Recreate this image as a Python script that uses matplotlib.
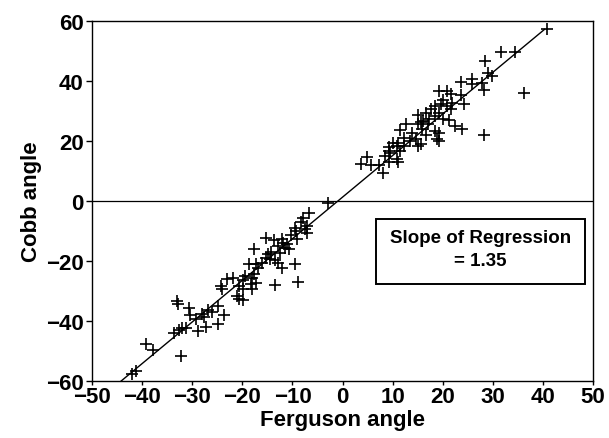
import numpy as np
import matplotlib
matplotlib.use("Agg")
import matplotlib.pyplot as plt
from matplotlib.patches import Rectangle

plt.rcParams['font.family'] = ['Liberation Sans', 'DejaVu Sans']

# Ferguson angle (x) vs Cobb angle (y)
ferguson = [40.7, 31.7, 34.5, 28.4, 29.0, 29.8, 23.6, 25.9, 25.8, 27.8,
            28.2, 36.2, 19.2, 20.9, 21.7, 23.6, 21.9, 24.2, 20.0, 19.7,
            20.9, 18.5, 17.7, 21.7, 16.6, 19.3, 18.5, 15.0, 20.0, 17.3,
            15.7, 15.0, 17.0, 12.7, 22.4, 23.9, 11.5, 15.8, 18.5, 13.8,
            19.2, 16.6, 28.2, 18.9, 19.3, 12.3, 13.5, 14.6, 10.0, 11.1,
            9.2, 10.8, 12.3, 15.0, 15.6, 9.2, 11.5, 8.4, 9.4, 4.9,
            3.6, 5.7, 7.3, 8.1, 9.2, 11.1, 10.8, 21.2, 16.0,
            -3.0, -6.7, -7.9, -8.3, -7.1, -9.4, -7.5, -9.2, -7.1, -9.0,
            -15.3, -13.7, -12.1, -11.8, -11.0, -12.9, -10.6, -17.7, -14.2, -14.9,
            -12.4, -15.3, -14.5, -13.4, -12.9, -9.4, -16.0, -18.7, -17.2, -16.8,
            -12.1, -21.9, -19.5, -17.6, -18.0, -19.8, -17.2, -18.3, -20.7, -19.9,
            -18.1, -8.8, -13.5, -23.0, -24.2, -24.0, -21.1, -20.7, -19.9, -24.9,
            -26.9, -26.1, -28.0, -27.6, -23.7, -29.2, -30.6, -30.4, -33.0, -32.8,
            -32.0, -31.2, -28.9, -27.3, -24.9, -33.7, -32.6, -39.3, -37.8, -32.2,
            -42.1, -41.2, -11.5, -10.2]
cobb = [57.4, 49.8, 49.8, 46.7, 42.8, 41.7, 39.8, 40.8, 38.9, 39.4,
        37.0, 35.9, 36.7, 36.7, 35.6, 35.2, 32.8, 32.2, 33.6, 32.2,
        31.7, 31.7, 30.6, 30.6, 29.4, 29.4, 28.3, 28.6, 27.2, 27.4,
        26.3, 25.6, 25.8, 25.6, 25.0, 24.1, 23.7, 23.9, 23.3, 22.8,
        22.8, 21.9, 21.9, 20.6, 20.0, 21.1, 20.0, 20.6, 19.4, 19.4,
        18.1, 18.3, 18.3, 18.3, 18.9, 16.7, 16.7, 15.0, 15.9, 14.7,
        12.4, 11.9, 11.9, 9.2, 13.0, 13.0, 13.9, 27.0, 26.8,
        -0.8, -4.1, -5.6, -7.0, -8.3, -8.9, -9.4, -10.0, -10.8, -12.6,
        -12.2, -13.0, -12.6, -13.9, -14.4, -15.0, -16.1, -16.1, -17.0, -17.8,
        -17.2, -18.9, -19.4, -19.8, -20.6, -20.9, -20.6, -21.1, -21.1, -22.2,
        -22.2, -25.6, -25.0, -24.4, -25.6, -26.3, -27.2, -27.8, -28.3, -29.4,
        -29.4, -26.9, -28.1, -26.1, -28.3, -29.2, -31.7, -32.6, -33.0, -35.0,
        -36.4, -37.0, -37.8, -38.6, -38.1, -39.4, -35.6, -38.1, -33.3, -34.4,
        -42.2, -42.2, -43.3, -42.0, -41.1, -44.1, -43.1, -47.6, -49.8, -51.7,
        -57.8, -56.7, -15.8, -11.5]

# regression line as drawn (end points)
line_x = [-44.3, 40.3]
line_y = [-60.2, 57.2]

fig = plt.figure(figsize=(6.09, 4.39), dpi=100)
ax = fig.add_axes([0.151, 0.130, 0.823, 0.820])

ax.plot(ferguson, cobb, linestyle='none', marker='+', color='black',
        markersize=8.5, markeredgewidth=1.2)
ax.plot(line_x, line_y, color='black', linewidth=1.0)
ax.axhline(0, color='black', linewidth=0.9)

ax.set_xlim(-50, 50)
ax.set_ylim(-60, 60)
ax.set_xticks(np.arange(-50, 51, 10))
ax.set_yticks(np.arange(-60, 61, 20))
ax.tick_params(axis='both', labelsize=16, direction='out', width=1.0)
ax.tick_params(axis='x', length=3, pad=1)
ax.tick_params(axis='y', length=4, pad=2)
for lab in ax.get_xticklabels() + ax.get_yticklabels():
    lab.set_fontweight('bold')
for sp in ax.spines.values():
    sp.set_linewidth(1.0)

ax.set_xlabel('Ferguson angle', fontsize=16, fontweight='bold', labelpad=1)
ax.set_ylabel('Cobb angle', fontsize=16, fontweight='bold', labelpad=3)

ax.add_patch(Rectangle((6.6, -27.6), 41.7, 21.7, fill=False,
                       edgecolor='black', linewidth=1.4, zorder=3))
ax.text(27.5, -12.3, 'Slope of Regression', ha='center', va='center',
        fontsize=13.5, fontweight='bold')
ax.text(27.5, -20.0, '= 1.35', ha='center', va='center',
        fontsize=13.5, fontweight='bold')

fig.savefig('out.png', dpi=100)
